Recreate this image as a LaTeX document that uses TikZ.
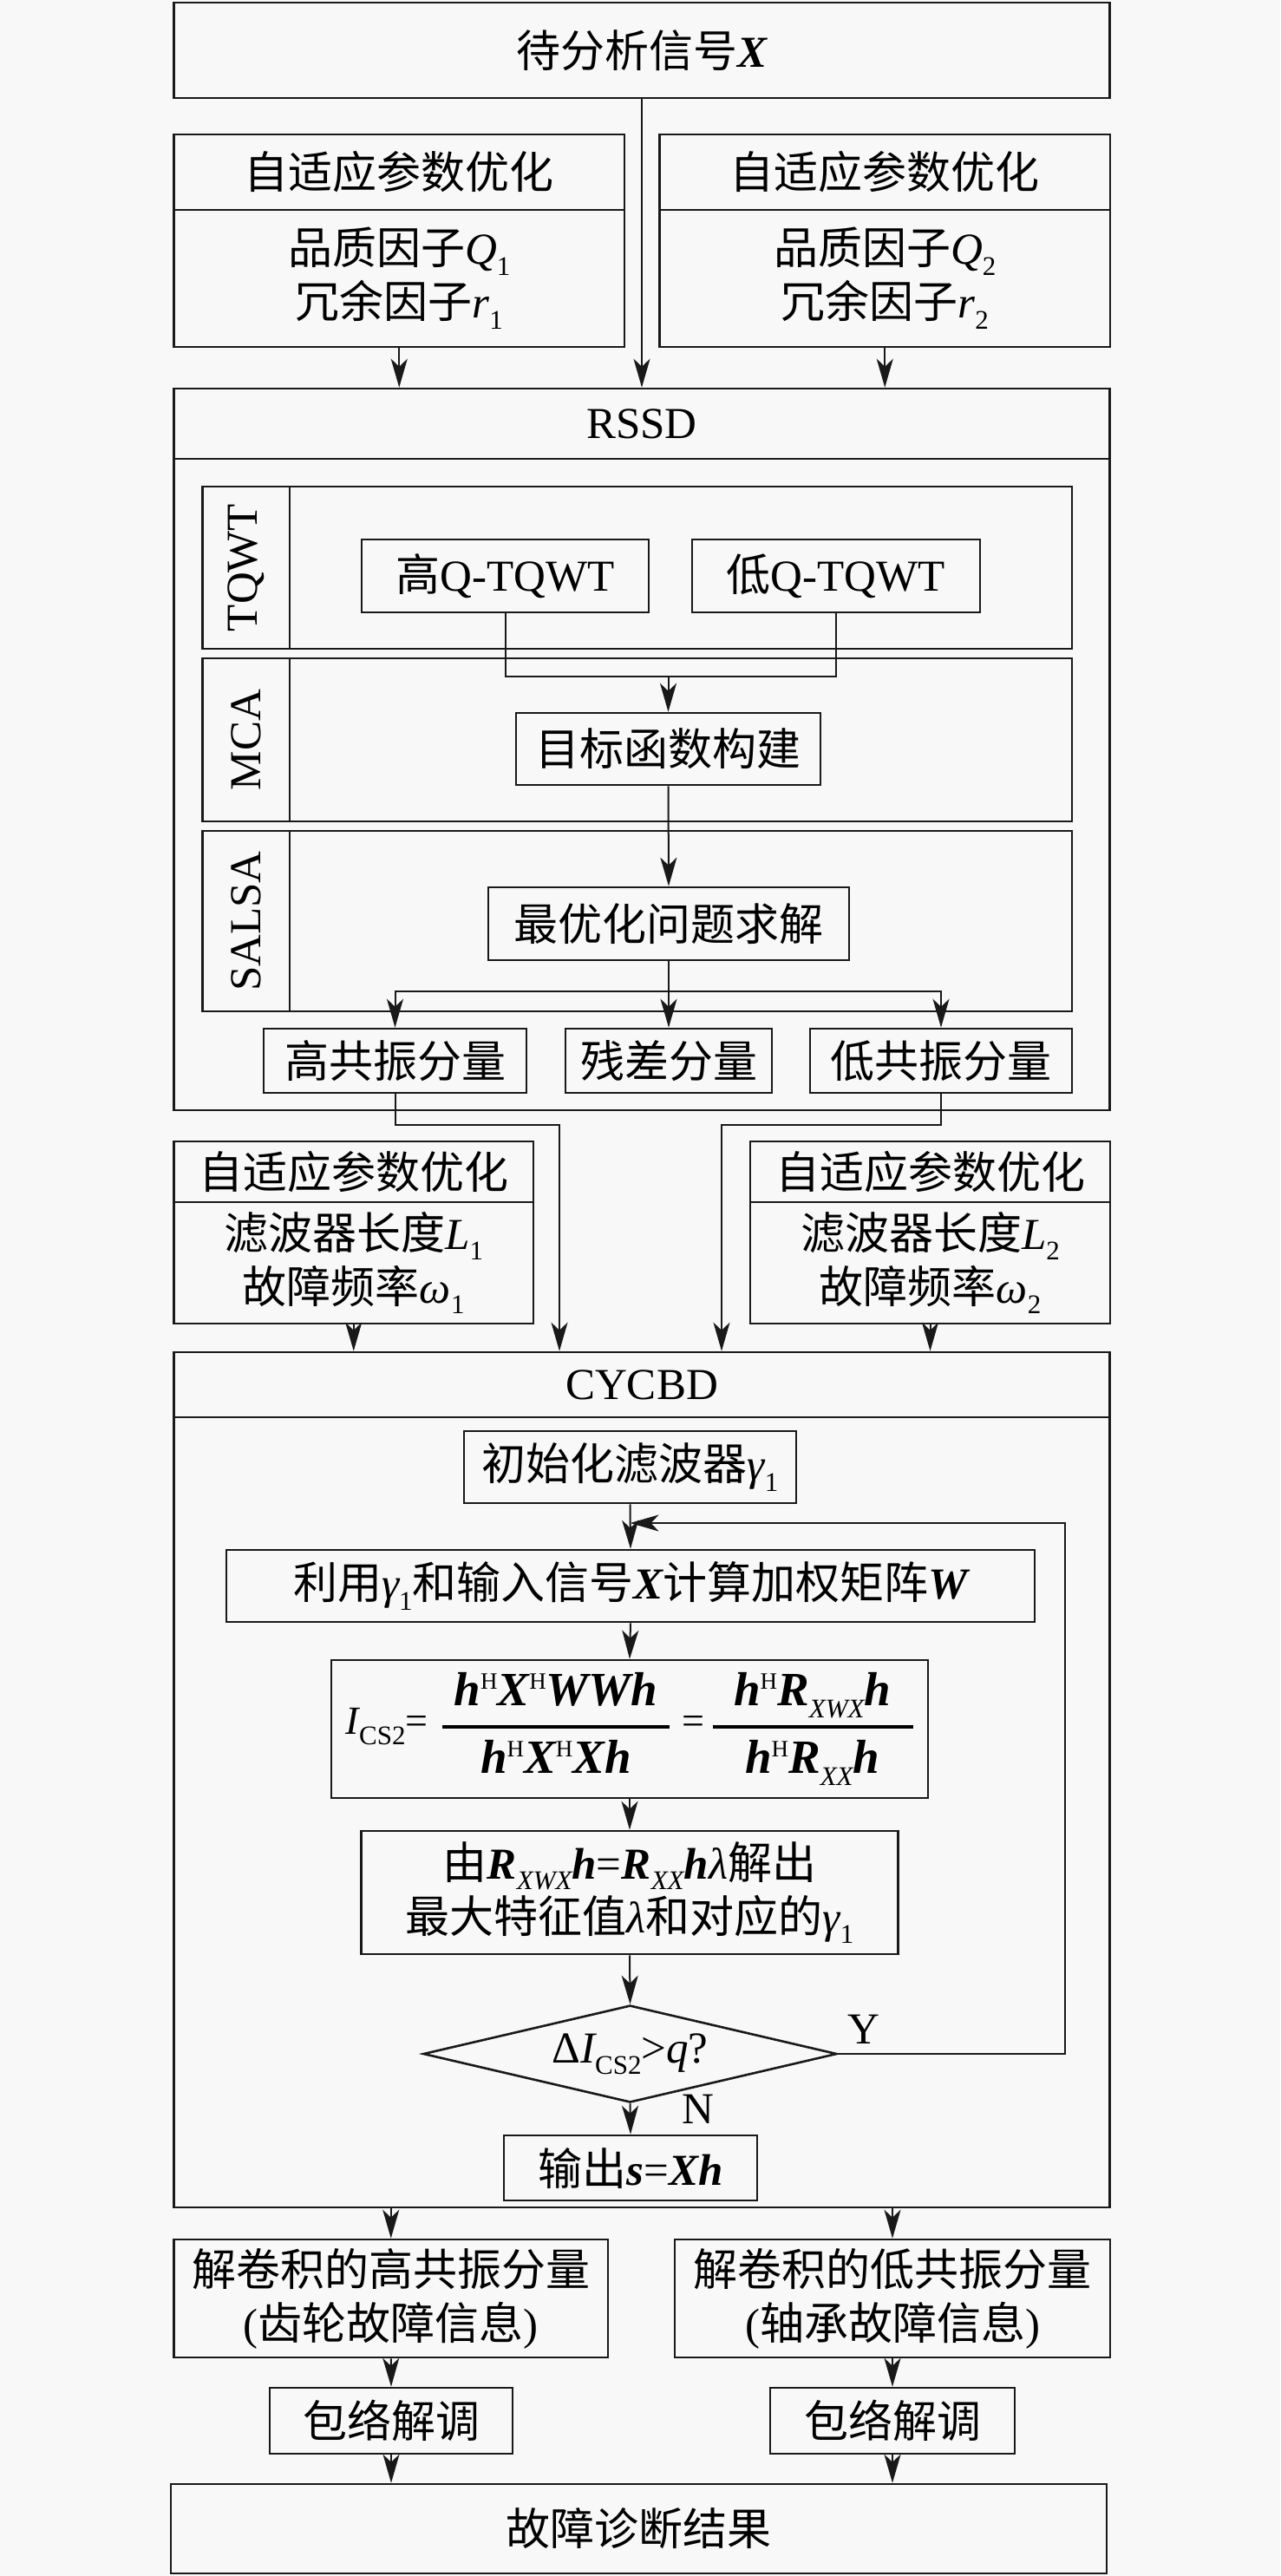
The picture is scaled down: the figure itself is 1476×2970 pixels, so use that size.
\documentclass[tikz,border=0pt]{standalone}
\usepackage{fontspec}
\setmainfont{Noto Sans CJK SC}
\newfontfamily\tms{Liberation Serif}
\usetikzlibrary{arrows.meta,shapes.geometric}
\definecolor{lc}{RGB}{25,25,25}
\definecolor{bg}{RGB}{248,248,248}
\newcommand\xsub[1]{\raisebox{-0.25em}{\fontsize{31}{31}\selectfont\tms #1}}
\newcommand\xsup[1]{\raisebox{0.36em}{\fontsize{27}{27}\selectfont\tms #1}}
\newcommand\xit[1]{{\tms\itshape #1}}
\newcommand\xbi[1]{{\tms\bfseries\itshape #1}}
\begin{document}
\begin{tikzpicture}[x=1pt,y=-1pt,
  every node/.style={font=\fontsize{51}{62}\selectfont, inner sep=0pt, align=center},
  bx/.style={draw=lc, line width=2.6pt},
  ln/.style={draw=lc, line width=2pt},
  arr/.style={ln, -{Stealth[length=33pt,width=19pt,inset=9pt]}}]
\fill[bg] (0,0) rectangle (1476,2970);
\useasboundingbox (0,0) rectangle (1476,2970);

% top
\node[bx, minimum width=1079.5pt, minimum height=110pt] (top) at (740,58) {待分析信号\xbi{X}};

% adaptive 1
\node[bx, minimum width=519.5pt, minimum height=87pt] (adLh) at (460.25,198.5) {自适应参数优化};
\node[bx, minimum width=519.5pt, minimum height=158pt] (adLb) at (460.25,321) {品质因子\xit{Q}\xsub{1}\\冗余因子\xit{r}\xsub{1}};
\node[bx, minimum width=519.5pt, minimum height=87pt] (adRh) at (1020.25,198.5) {自适应参数优化};
\node[bx, minimum width=519.5pt, minimum height=158pt] (adRb) at (1020.25,321) {品质因子\xit{Q}\xsub{2}\\冗余因子\xit{r}\xsub{2}};

% RSSD
\node[bx, minimum width=1079.5pt, minimum height=81pt] (rssdh) at (740,488.5) {\tms RSSD};
\node[bx, minimum width=1079.5pt, minimum height=751pt] (rssdb) at (740,904.5) {};

\node[bx, rotate=90, minimum width=187pt, minimum height=100.5pt] (tqL) at (283.75,654.5) {\tms TQWT};
\node[bx, minimum width=902pt, minimum height=187pt] (tqC) at (785,654.5) {};
\node[bx, rotate=90, minimum width=188pt, minimum height=100.5pt] (mcaL) at (283.75,853) {\tms MCA};
\node[bx, minimum width=902pt, minimum height=188pt] (mcaC) at (785,853) {};
\node[bx, rotate=90, minimum width=208pt, minimum height=100.5pt] (saL) at (283.75,1062) {\tms SALSA};
\node[bx, minimum width=902pt, minimum height=208pt] (saC) at (785,1062) {};

\node[bx, minimum width=331pt, minimum height=84pt] (hiQ) at (582.5,664) {高{\tms Q-TQWT}};
\node[bx, minimum width=332pt, minimum height=84pt] (loQ) at (964,664) {低{\tms Q-TQWT}};
\node[bx, minimum width=351pt, minimum height=83pt] (obj) at (770.5,863.5) {目标函数构建};
\node[bx, minimum width=416pt, minimum height=84pt] (opt) at (771,1065) {最优化问题求解};

\node[bx, minimum width=303pt, minimum height=74pt] (hi) at (455.5,1223) {高共振分量};
\node[bx, minimum width=238pt, minimum height=74pt] (res) at (771,1223) {残差分量};
\node[bx, minimum width=302pt, minimum height=74pt] (lo) at (1085,1223) {低共振分量};

% adaptive 2
\node[bx, minimum width=414.5pt, minimum height=70pt] (ad2Lh) at (407.75,1351) {自适应参数优化};
\node[bx, minimum width=414.5pt, minimum height=140pt] (ad2Lb) at (407.75,1456) {滤波器长度\xit{L}\xsub{1}\\故障频率\xit{ω}\xsub{1}};
\node[bx, minimum width=415pt, minimum height=70pt] (ad2Rh) at (1072.5,1351) {自适应参数优化};
\node[bx, minimum width=415pt, minimum height=140pt] (ad2Rb) at (1072.5,1456) {滤波器长度\xit{L}\xsub{2}\\故障频率\xit{ω}\xsub{2}};

% CYCBD
\node[bx, minimum width=1079.5pt, minimum height=75pt] (cyh) at (740,1596.5) {\tms CYCBD};
\node[bx, minimum width=1079.5pt, minimum height=911pt] (cyb) at (740,2089.5) {};

\node[bx, minimum width=383pt, minimum height=83pt] (init) at (726.5,1691.5) {初始化滤波器\xit{γ}\xsub{1}};
\node[bx, minimum width=932pt, minimum height=83pt] (use) at (727,1828.5) {利用\xit{γ}\xsub{1}和输入信号\xbi{X}计算加权矩阵\xbi{W}};
\node[bx, minimum width=688pt, minimum height=159pt] (frm) at (726,1993.5) {\setlength\arrayrulewidth{3.5pt}%
  {\fontsize{46}{50}\selectfont\xit{I}\xsub{CS2}{\tms =}}\hspace{16pt}%
  \fontsize{55}{62}\selectfont
  \begin{tabular}{@{\hspace{14pt}}c@{\hspace{14pt}}}\xbi{h}\xsup{H}\xbi{X}\xsup{H}\xbi{WWh}\\[4pt]\hline\rule{0pt}{52pt}\xbi{h}\xsup{H}\xbi{X}\xsup{H}\xbi{Xh}\end{tabular}%
  \hspace{14pt}{\fontsize{46}{50}\selectfont\tms =}\hspace{10pt}%
  \begin{tabular}{@{\hspace{24pt}}c@{\hspace{26pt}}}\xbi{h}\xsup{H}\xbi{R}\xsub{\itshape XWX}\xbi{h}\\[4pt]\hline\rule{0pt}{52pt}\xbi{h}\xsup{H}\xbi{R}\xsub{\itshape XX}\xbi{h}\end{tabular}};
\node[bx, minimum width=618.5pt, minimum height=142pt] (solve) at (726,2182) {由\xbi{R}\xsub{\itshape XWX}\xbi{h}{\tms =}\xbi{R}\xsub{\itshape XX}\xbi{h}\xit{λ}解出\\最大特征值\xit{λ}和对应的\xit{γ}\xsub{1}};
\node[bx, diamond, aspect=4.26, minimum width=477pt, minimum height=112pt] (dia) at (726.5,2368) {{\tms Δ}\xit{I}\xsub{CS2}{\tms >}\xit{q}{\tms ?}};
\node[bx, minimum width=292pt, minimum height=75pt] (out) at (727,2499.5) {输出\xbi{s}{\tms =}\xbi{Xh}};
\node (ylab) at (996,2340) {\tms Y};
\node (nlab) at (805,2432) {\tms N};

% outputs
\node[bx, minimum width=500.5pt, minimum height=136pt] (decL) at (450.75,2650) {解卷积的高共振分量\\{\tms (}齿轮故障信息{\tms )}};
\node[bx, minimum width=502pt, minimum height=136pt] (decR) at (1029,2650) {解卷积的低共振分量\\{\tms (}轴承故障信息{\tms )}};
\node[bx, minimum width=280pt, minimum height=76pt] (envL) at (451,2791) {包络解调};
\node[bx, minimum width=282pt, minimum height=76pt] (envR) at (1029,2791) {包络解调};
\node[bx, minimum width=1079pt, minimum height=103pt] (fin) at (736.5,2915.5) {故障诊断结果};

% connectors
\draw[arr] (top.south) -- (top.south |- rssdh.north);
\draw[arr] (adLb.south) -- (adLb.south |- rssdh.north);
\draw[arr] (adRb.south) -- (adRb.south |- rssdh.north);

\path (obj.north) ++(0,-41) coordinate (j1);
\draw[ln] (hiQ.south) |- (j1) -| (loQ.south);
\draw[arr] (j1) -- (obj.north);
\draw[arr] (obj.south) -- (opt.north);
\path (opt.south) ++(0,35) coordinate (j2);
\draw[ln] (opt.south) -- (j2);
\draw[arr] (j2) -| (hi.north);
\draw[arr] (j2) -| (lo.north);
\draw[arr] (j2) -- (res.north);

\coordinate (k1) at (645,1297);
\coordinate (k2) at (832,1297);
\draw[arr] (hi.south) |- (k1) -- (k1 |- cyh.north);
\draw[arr] (lo.south) |- (k2) -- (k2 |- cyh.north);
\draw[arr] (ad2Lb.south) -- (ad2Lb.south |- cyh.north);
\draw[arr] (ad2Rb.south) -- (ad2Rb.south |- cyh.north);

\draw[arr] (init.south) -- (use.north);
\draw[arr] (use.south) -- (frm.north);
\draw[arr] (frm.south) -- (solve.north);
\draw[arr] (solve.south) -- (dia.north);
\draw[arr] (dia.south) -- (out.north);
\coordinate (fb) at (1228,1756);
\draw[arr] (dia.east) -| (fb) -- (fb -| init.south);

\draw[arr] (decL.north |- cyb.south) -- (decL.north);
\draw[arr] (decR.north |- cyb.south) -- (decR.north);
\draw[arr] (decL.south) -- (envL.north);
\draw[arr] (decR.south) -- (envR.north);
\draw[arr] (envL.south) -- (envL.south |- fin.north);
\draw[arr] (envR.south) -- (envR.south |- fin.north);
\end{tikzpicture}
\end{document}
